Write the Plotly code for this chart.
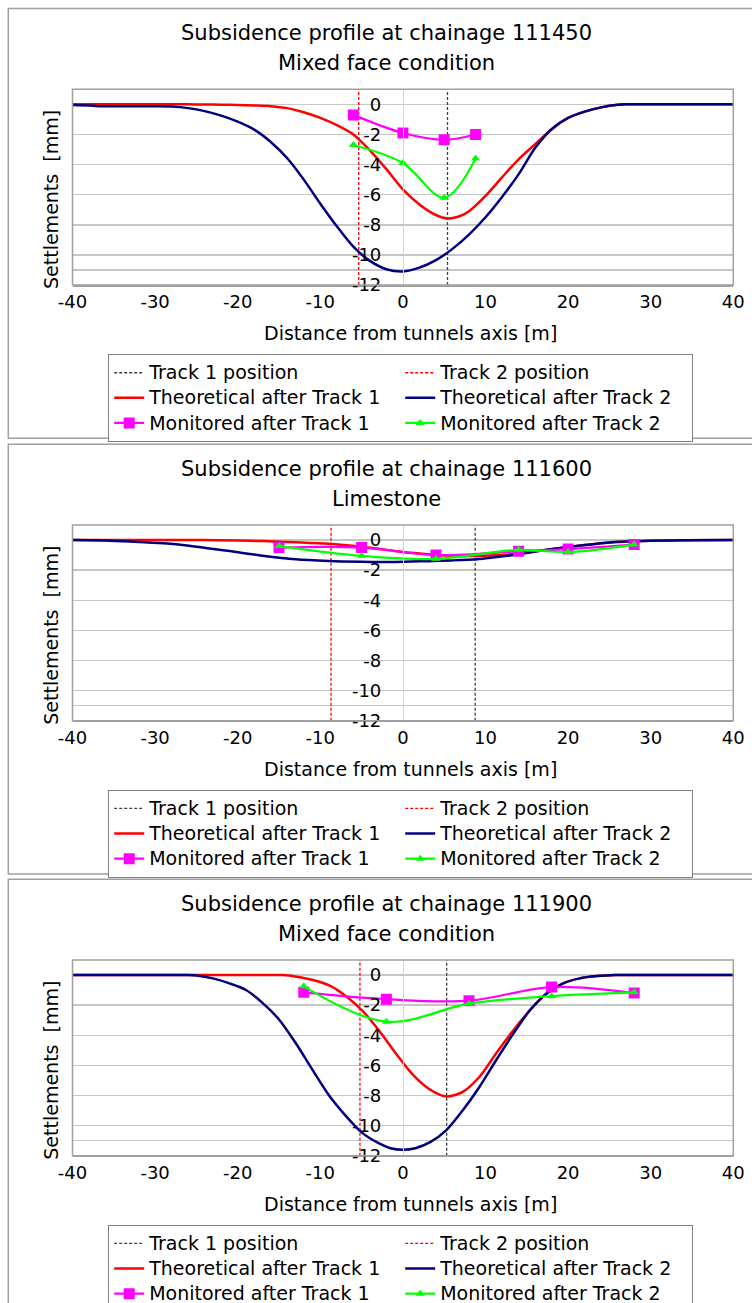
import plotly.graph_objects as go

W, H = 752, 1303
FONT = "DejaVu Sans"

# ---------------- data ----------------
chainages = ["111450", "111600", "111900"]
conditions = ["Mixed face condition", "Limestone", "Mixed face condition"]
series_names = ["Track 1 position", "Track 2 position", "Theoretical after Track 1",
                "Theoretical after Track 2", "Monitored after Track 1", "Monitored after Track 2"]

track1_pos = [5.4, 8.75, 5.3]
track2_pos = [-5.35, -8.7, -5.2]

# chainage 111450
c1_theo1_x = [-40, -35, -30, -26, -24, -22, -20, -18, -16, -14, -12, -10, -8, -6, -4, -2, 0, 2, 4,
              5.4, 7, 8, 10, 12, 14, 16, 18, 20, 22, 24, 26, 27, 30, 35, 40]
c1_theo1_y = [0, 0, 0, 0, -0.01, -0.02, -0.04, -0.07, -0.12, -0.25, -0.52, -0.9, -1.38, -2.0, -3.05,
              -4.3, -5.65, -6.65, -7.35, -7.58, -7.4, -7.1, -6.08, -4.85, -3.65, -2.65, -1.65, -0.9,
              -0.48, -0.2, -0.03, 0, 0, 0, 0]
c1_theo2_x = [-40, -38, -36, -34, -30, -28, -26, -24, -22, -20, -18, -16, -14, -12, -10, -8, -6, -4,
              -2, 0, 2, 4, 6, 8, 10, 12, 14, 16, 18, 20, 22, 24, 26, 27, 30, 35, 40]
c1_theo2_y = [-0.05, -0.08, -0.13, -0.13, -0.13, -0.15, -0.25, -0.45, -0.75, -1.15, -1.68, -2.5,
              -3.58, -5.0, -6.6, -8.1, -9.45, -10.4, -10.95, -11.1, -10.85, -10.35, -9.6, -8.65,
              -7.5, -6.15, -4.65, -2.9, -1.65, -0.9, -0.48, -0.2, -0.03, 0, 0, 0, 0]
c1_mon1_x = [-6, 0, 5, 8.8]
c1_mon1_y = [-0.7, -1.9, -2.35, -2.0]
c1_mon2_x = [-6, 0, 5, 8.8]
c1_mon2_y = [-2.7, -3.9, -6.2, -3.6]

# chainage 111600
c2_theo1_x = [-40, -32, -24, -20, -17, -13, -9, -5, -1, 1, 3, 5, 8, 10.5, 13, 15, 17, 21, 25, 29, 34, 40]
c2_theo1_y = [0, 0, 0, -0.03, -0.07, -0.15, -0.25, -0.45, -0.72, -0.85, -0.95, -1.02, -1.06, -1.02,
              -0.95, -0.82, -0.68, -0.4, -0.17, -0.07, -0.02, 0]
c2_theo2_x = [-40, -36, -33, -29, -25, -21, -17, -13, -9, -5, -1, 3, 6, 9, 11, 14, 17, 21, 25, 29, 34, 40]
c2_theo2_y = [0, -0.03, -0.1, -0.22, -0.44, -0.73, -1.04, -1.28, -1.39, -1.44, -1.46, -1.4, -1.35,
              -1.27, -1.15, -0.95, -0.68, -0.4, -0.17, -0.07, -0.02, 0]
c2_mon1_x = [-15, -5, 4, 14, 20, 28]
c2_mon1_y = [-0.5, -0.5, -1.0, -0.75, -0.6, -0.3]
c2_mon2_x = [-15, -5, 4, 14, 20, 28]
c2_mon2_y = [-0.4, -1.05, -1.25, -0.65, -0.8, -0.3]

# chainage 111900
c3_theo1_x = [-40, -34, -28, -22, -18, -16, -14.5, -12.9, -10.9, -8.8, -6.8, -4.8, -2.8, -0.8, 1.25,
              3.27, 5.3, 7.3, 9.3, 11.3, 13.4, 15.4, 17.4, 19.4, 21.4, 23.5, 25.7, 28, 32, 36, 40]
c3_theo1_y = [0, 0, 0, 0, 0, 0, 0, -0.11, -0.33, -0.72, -1.44, -2.43, -3.75, -5.25, -6.65, -7.6,
              -8.07, -7.74, -6.74, -5.2, -3.65, -2.32, -1.22, -0.55, -0.22, -0.07, 0, 0, 0, 0, 0]
c3_theo2_x = [-40, -36, -32, -29, -27, -26, -25, -23, -21, -19, -17, -15, -13, -11, -9, -7, -5, -3,
              -1.5, 0, 1.5, 3.3, 5.3, 7.3, 9.3, 11.3, 13.4, 15.4, 17.4, 19.4, 21.4, 23.5, 25.7, 28,
              32, 36, 40]
c3_theo2_y = [0, 0, 0, 0, 0, 0, -0.03, -0.22, -0.55, -0.99, -1.85, -2.95, -4.5, -6.25, -7.95, -9.3,
              -10.45, -11.15, -11.5, -11.6, -11.5, -11.1, -10.28, -8.95, -7.4, -5.64, -3.87, -2.32,
              -1.22, -0.55, -0.22, -0.07, 0, 0, 0, 0, 0]
c3_mon1_x = [-12, -2, 8, 18, 28]
c3_mon1_y = [-1.15, -1.6, -1.7, -0.8, -1.2]
c3_mon2_x = [-12, -2, 8, 18, 28]
c3_mon2_y = [-0.75, -3.1, -1.9, -1.4, -1.15]

x_ticks = [-40, -30, -20, -10, 0, 10, 20, 30, 40]
y_ticks = [0, -2, -4, -6, -8, -10, -11, -12]
y_tick_text = ["0", "-2", "-4", "-6", "-8", "-10", "", "-12"]
Y_MIN, Y_MAX = -12, 1
X_MIN, X_MAX = -40, 40

panels = [
    (c1_theo1_x, c1_theo1_y, c1_theo2_x, c1_theo2_y, c1_mon1_x, c1_mon1_y, c1_mon2_x, c1_mon2_y),
    (c2_theo1_x, c2_theo1_y, c2_theo2_x, c2_theo2_y, c2_mon1_x, c2_mon1_y, c2_mon2_x, c2_mon2_y),
    (c3_theo1_x, c3_theo1_y, c3_theo2_x, c3_theo2_y, c3_mon1_x, c3_mon1_y, c3_mon2_x, c3_mon2_y),
]

# ---------------- layout geometry (pixels) ----------------
def px(x):
    return x / W

def py(y):
    return 1 - y / H

def lname(s):
    return '<span style="font-size:19px">' + s + '</span>'

plot_left, plot_right = 72.5, 733.3
offsets = [0, 435.7, 870.7]
plot_top0, plot_bot0 = 89.3, 285.0

fig = go.Figure()
layout = dict(
    width=W, height=H, margin=dict(l=0, r=0, t=0, b=0, autoexpand=False),
    paper_bgcolor="white", plot_bgcolor="white", showlegend=True,
    font=dict(family=FONT, size=18, color="black"),
    hovermode=False,
)
shapes = []
annotations = []

xdom = [px(plot_left), px(plot_right)]
ypos = xdom[0] + (xdom[1] - xdom[0]) * (0 - X_MIN) / (X_MAX - X_MIN)

for i, (t1x, t1y, t2x, t2y, m1x, m1y, m2x, m2y) in enumerate(panels):
    n = "" if i == 0 else str(i + 1)
    xa, ya, lg = "x" + n, "y" + n, "legend" + n
    off = offsets[i]
    common = dict(xaxis=xa, yaxis=ya, legend=lg, hoverinfo="skip")

    fig.add_trace(go.Scatter(x=[track1_pos[i], track1_pos[i]], y=[Y_MIN, Y_MAX], mode="lines",
                             name=lname(series_names[0]),
                             line=dict(color="#404040", width=1.3, dash="3px,2px"), **common))
    fig.add_trace(go.Scatter(x=[track2_pos[i], track2_pos[i]], y=[Y_MIN, Y_MAX], mode="lines",
                             name=lname(series_names[1]),
                             line=dict(color="#ff0000", width=1.3, dash="3px,2px"), **common))
    fig.add_trace(go.Scatter(x=t1x, y=t1y, mode="lines", name=lname(series_names[2]),
                             line=dict(color="#ff0000", width=2.5, shape="spline", smoothing=0.8),
                             **common))
    fig.add_trace(go.Scatter(x=t2x, y=t2y, mode="lines", name=lname(series_names[3]),
                             line=dict(color="#000080", width=2.5, shape="spline", smoothing=0.8),
                             **common))
    fig.add_trace(go.Scatter(x=m1x, y=m1y, mode="lines+markers", name=lname(series_names[4]),
                             line=dict(color="#ff00ff", width=2.2, shape="spline", smoothing=1),
                             marker=dict(symbol="square", size=11, color="#ff00ff"), **common))
    fig.add_trace(go.Scatter(x=m2x, y=m2y, mode="lines+markers", name=lname(series_names[5]),
                             line=dict(color="#00ff00", width=2.2, shape="spline", smoothing=1),
                             marker=dict(symbol="triangle-up", size=8, color="#00ff00"), **common))

    ydom = [py(plot_bot0 + off), py(plot_top0 + off)]
    layout["xaxis" + n] = dict(
        domain=xdom, range=[X_MIN, X_MAX], tickvals=x_ticks, ticktext=[str(v) for v in x_ticks],
        showgrid=False, zeroline=False, showline=True, linecolor="#a0a0a0", linewidth=1.5,
        ticks="", tickfont=dict(family=FONT, size=18, color="black"), anchor=ya, fixedrange=True,
    )
    layout["yaxis" + n] = dict(
        domain=ydom, range=[Y_MIN, Y_MAX], tickvals=y_ticks, ticktext=y_tick_text,
        showgrid=True, gridcolor="#c6c6c6", gridwidth=1.5, zeroline=False,
        showline=True, linecolor="#d4d4d4", linewidth=1.2, ticks="",
        anchor="free", position=ypos, ticklabelstandoff=18,
        tickfont=dict(family=FONT, size=18, color="black"), fixedrange=True,
    )
    layout[lg] = dict(
        x=px(108), y=py(354 + off), xanchor="left", yanchor="top", orientation="h",
        entrywidth=246, entrywidthmode="pixels", bgcolor="white",
        bordercolor="#808080", borderwidth=1.2, font=dict(family=FONT, size=17, color="black"),
        tracegroupgap=0,
    )
    # plot frame
    shapes.append(dict(type="rect", xref=xa + " domain", yref=ya + " domain", x0=0, x1=1, y0=0, y1=1,
                       line=dict(color="#a0a0a0", width=1.5), fillcolor="rgba(0,0,0,0)", layer="above"))
    # panel border
    shapes.append(dict(type="rect", xref="paper", yref="paper", x0=px(8.3), x1=px(775),
                       y0=py(438.3 + off), y1=py(8.5 + off),
                       line=dict(color="#a0a0a0", width=1.5), fillcolor="rgba(0,0,0,0)", layer="below"))
    # titles
    annotations.append(dict(text="Subsidence profile at chainage " + chainages[i], x=px(386), y=py(33 + off),
                            xref="paper", yref="paper", showarrow=False, xanchor="center", yanchor="middle",
                            font=dict(family=FONT, size=21, color="black")))
    annotations.append(dict(text=conditions[i], x=px(386), y=py(63 + off),
                            xref="paper", yref="paper", showarrow=False, xanchor="center", yanchor="middle",
                            font=dict(family=FONT, size=21, color="black")))
    annotations.append(dict(text="Distance from tunnels axis [m]", x=px(410), y=py(333 + off),
                            xref="paper", yref="paper", showarrow=False, xanchor="center", yanchor="middle",
                            font=dict(family=FONT, size=19, color="black")))
    annotations.append(dict(text="Settlements  [mm]", x=px(51), y=py(199 + off), textangle=-90,
                            xref="paper", yref="paper", showarrow=False, xanchor="center", yanchor="middle",
                            font=dict(family=FONT, size=19, color="black")))

layout["shapes"] = shapes
layout["annotations"] = annotations
fig.update_layout(**layout)
fig.write_html("out.html", config={"displayModeBar": False, "staticPlot": True},
               post_script="document.body.style.margin='0px';")
